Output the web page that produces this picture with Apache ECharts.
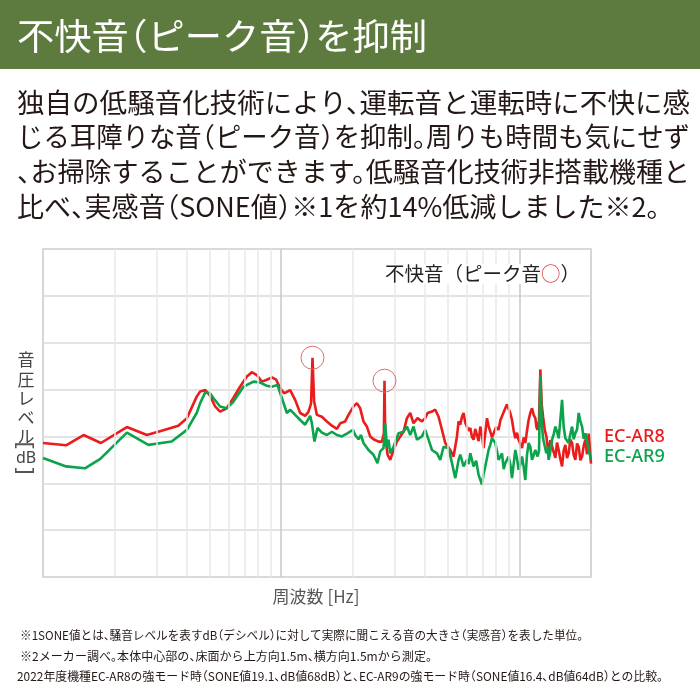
<!DOCTYPE html>
<html lang="ja">
<head>
<meta charset="utf-8">
<title>不快音（ピーク音）を抑制</title>
<script src="https://cdn.jsdelivr.net/npm/echarts@6/dist/echarts.min.js"></script>
<style>
  body { margin: 0; background: #fff; }
  #wrap { position: relative; width: 700px; height: 700px; overflow: hidden; background: #fff; font-family: "Noto Sans CJK JP", "Noto Sans", sans-serif; }
  #band { position: absolute; left: 0; top: 0; width: 700px; height: 69px; background: #5e7b3f; }
  #chart { position: absolute; left: 0; top: 0; width: 700px; height: 700px; }
  .fit { position: absolute; white-space: nowrap; display: inline-block; transform-origin: 0 0; font-feature-settings: "halt"; }
  .title { left: 17px; top: 16px; font-size: 36px; line-height: 36px; color: #fff; }
  .para { left: 17px; font-size: 27px; line-height: 27px; color: #231815; }
  .note { font-size: 12px; line-height: 12px; color: #231815; }
  .br { position: absolute; width: 20px; height: 30px; line-height: 30px; text-align: center; font-family: "Noto Sans", sans-serif; font-size: 22px; color: #555; transform: rotate(90deg); }
</style>
</head>
<body>
<div id="wrap">
  <div id="band"></div>
  <div id="chart"></div>
  <span class="fit title" data-w="410">不快音（ピーク音）を抑制</span>
  <span class="fit para" style="top:88px" data-w="673">独自の低騒音化技術により、運転音と運転時に不快に感</span>
  <span class="fit para" style="top:122px" data-w="673">じる耳障りな音（ピーク音）を抑制。周りも時間も気にせず</span>
  <span class="fit para" style="top:157px" data-w="673">、お掃除することができます。低騒音化技術非搭載機種と</span>
  <span class="fit para" style="top:192px" data-w="643">比べ、実感音（SONE値）※1を約14%低減しました※2。</span>
  <span class="br" style="left:17px;top:430px">[</span>
  <span class="br" style="left:17px;top:456px">]</span>
  <span class="fit note" style="left:20px;top:629px" data-w="563">※1SONE値とは、騒音レベルを表すdB（デシベル）に対して実際に聞こえる音の大きさ（実感音）を表した単位。</span>
  <span class="fit note" style="left:20px;top:650px" data-w="412">※2メーカー調べ。本体中心部の、床面から上方向1.5m、横方向1.5mから測定。</span>
  <span class="fit note" style="left:17px;top:670px" data-w="646">2022年度機種EC-AR8の強モード時（SONE値19.1、dB値68dB）と、EC-AR9の強モード時（SONE値16.4、dB値64dB）との比較。</span>
</div>
<script>
// 周波数 [Hz] と音圧レベル [dB]（目盛なしの相対値）
const seriesNames = ['EC-AR8', 'EC-AR9'];

const ar8Freq = [100, 125, 148, 175, 225, 273, 320, 370, 402, 442, 457, 480, 503, 528, 554, 591, 630, 672, 718, 753,
  790, 830, 871, 914, 953, 990, 1029, 1091, 1145, 1202, 1261, 1300, 1335, 1354, 1375, 1413, 1483, 1556, 1633, 1714,
  1770, 1857, 1918, 2013, 2080, 2147, 2217, 2291, 2365, 2442, 2563, 2649, 2700, 2716, 2735, 2796, 2871, 2964, 3063, 3162,
  3265, 3375, 3483, 3596, 3738, 3901, 4027, 4118, 4298, 4438, 4582, 4735, 4888, 5130, 5296, 5473, 5559, 5651, 5744, 5834,
  5931, 6029, 6124, 6225, 6330, 6427, 6530, 6643, 6750, 6857, 6970, 7079, 7200, 7316, 7430, 7554, 7680, 7798, 7990, 8185,
  8320, 8459, 8600, 8734, 8870, 9016, 9160, 9318, 9470, 9621, 9780, 9933, 10100, 10264, 10430, 10597, 10770, 10942, 11120, 11308,
  11490, 11676, 11800, 11940, 12100, 12256, 12420, 12581, 12780, 12989, 13130, 13282, 13500, 13726, 13950, 14171, 14400, 14630, 14870, 15120,
  15360, 15612, 15860, 16117, 16380, 16657, 16920, 17199, 17480, 17757, 18050, 18349, 18640, 18943, 19250, 19559, 19800, 20000];
const ar8Level = [28.6, 28.1, 30.3, 28.6, 32.0, 30.3, 31.3, 32.3, 33.9, 38.5, 39.6, 39.9, 38.7, 36.4, 35.3, 36.0, 38.2, 40.6, 42.8, 43.7,
  43.1, 41.7, 42.1, 42.6, 42.1, 40.3, 39.2, 39.9, 37.8, 35.0, 34.4, 35.2, 37.0, 46.8, 37.5, 34.6, 34.2, 33.2, 32.3, 31.6,
  32.8, 33.2, 34.6, 36.4, 37.1, 36.0, 33.2, 32.1, 30.0, 29.4, 28.9, 28.9, 30.6, 41.9, 30.2, 26.1, 25.0, 27.1, 28.9, 30.0,
  31.0, 33.9, 35.0, 32.8, 33.9, 33.2, 33.9, 35.0, 35.3, 35.7, 34.2, 31.4, 28.6, 27.1, 25.7, 30.0, 33.2, 32.5, 34.2, 35.0,
  32.9, 33.2, 31.2, 31.8, 29.9, 29.3, 31.6, 31.4, 29.0, 32.1, 30.4, 27.5, 30.8, 33.9, 32.2, 31.0, 29.8, 30.0, 32.0, 31.4,
  33.4, 33.2, 35.2, 35.0, 36.8, 36.4, 35.0, 33.5, 31.2, 29.6, 30.8, 29.3, 28.4, 27.5, 29.8, 28.6, 31.2, 33.5, 35.0, 36.0,
  34.6, 33.9, 32.0, 31.4, 33.5, 44.3, 36.8, 34.2, 31.5, 30.0, 28.1, 26.8, 29.2, 28.9, 26.6, 25.4, 28.7, 27.1, 25.2, 23.6,
  27.0, 28.2, 25.4, 26.4, 29.3, 28.6, 26.0, 25.0, 28.5, 27.8, 24.9, 25.7, 28.0, 29.3, 26.2, 30.6, 27.0, 24.2];

const ar9Freq = [100, 125, 150, 174, 225, 277, 347, 402, 442, 457, 480, 487, 503, 519, 554, 591, 630, 694, 765, 816,
  871, 914, 965, 1007, 1057, 1091, 1145, 1202, 1261, 1324, 1346, 1380, 1421, 1483, 1556, 1633, 1714, 1799, 1888, 1918,
  2002, 2046, 2112, 2162, 2217, 2327, 2442, 2538, 2606, 2690, 2735, 2780, 2823, 2871, 2964, 3111, 3265, 3375, 3483, 3596,
  3717, 3901, 4027, 4158, 4298, 4511, 4658, 4808, 5046, 5215, 5384, 5470, 5559, 5651, 5834, 6029, 6130, 6225, 6427, 6590,
  6745, 6971, 7080, 7196, 7430, 7550, 7679, 7928, 8050, 8185, 8459, 8600, 8734, 9016, 9170, 9318, 9621, 9780, 9933, 10100,
  10264, 10430, 10597, 10770, 10942, 11120, 11308, 11490, 11676, 11940, 12100, 12256, 12420, 12581, 12780, 12989, 13130, 13282, 13500, 13726,
  13950, 14171, 14400, 14630, 14870, 15120, 15360, 15612, 15860, 16117, 16380, 16657, 16920, 17199, 17480, 17757, 18050, 18349, 18640, 18943,
  19250, 19559, 19800, 20000];
const ar9Level = [25.4, 23.6, 23.2, 25.2, 30.8, 28.2, 28.9, 31.4, 35.0, 37.1, 39.4, 39.6, 39.2, 38.2, 36.4, 36.0, 37.4, 40.6, 41.7, 41.5,
  40.8, 40.6, 41.0, 38.2, 35.0, 35.7, 34.6, 33.5, 32.5, 34.4, 32.8, 28.9, 31.8, 30.8, 30.3, 31.0, 30.3, 30.0, 30.6, 30.7,
  31.4, 30.3, 29.4, 30.3, 28.6, 27.1, 26.1, 24.3, 26.8, 27.5, 32.8, 27.8, 29.3, 26.4, 27.8, 30.7, 31.0, 32.1, 30.3, 32.1,
  29.3, 30.0, 31.4, 29.3, 27.1, 26.4, 25.0, 27.8, 27.5, 24.3, 21.1, 23.0, 25.0, 26.1, 23.6, 25.0, 24.1, 26.4, 23.6, 24.8,
  21.8, 19.7, 22.0, 23.6, 27.1, 28.2, 29.6, 28.6, 27.0, 25.0, 26.4, 23.0, 24.3, 25.7, 24.0, 21.1, 27.1, 25.3, 22.9, 24.0,
  25.7, 23.5, 20.7, 26.0, 28.6, 27.8, 25.0, 26.0, 27.1, 25.7, 27.0, 43.1, 33.0, 29.6, 28.0, 26.4, 27.8, 25.0, 26.8, 29.3,
  30.5, 32.1, 31.0, 29.6, 33.5, 37.8, 32.0, 29.6, 30.0, 28.6, 30.5, 32.1, 29.4, 30.7, 31.5, 35.0, 33.2, 32.1, 29.5, 30.7,
  29.0, 27.1, 26.0, 25.0];

// ピーク音（○印）
const peakFreq = [1354, 2716];
const peakLevel = [46.8, 41.9];

// 対数目盛の縦線
const minorFreq = [200, 300, 400, 500, 600, 700, 800, 900, 2000, 3000, 4000, 5000, 6000, 7000, 8000, 9000];
const decadeFreq = [1000, 10000];

const RED = '#ea1c1c';
const GREEN = '#0ba34b';
const JP = '"Noto Sans CJK JP", sans-serif';

function pairs(xs, ys) {
  return xs.map((x, i) => [x, ys[i]]);
}

function fitLines() {
  document.querySelectorAll('.fit').forEach(el => {
    const w = Number(el.dataset.w);
    const nat = el.getBoundingClientRect().width;
    if (w && nat) el.style.transform = `scaleX(${w / nat})`;
  });
}

function label(text, x, y, size, font, fill) {
  return {
    type: 'text', x, y, z: 100,
    style: { text, fontSize: size, fontFamily: font, fill, align: 'center', verticalAlign: 'middle' }
  };
}

function yLabel() {
  const chars = ['音', '圧', 'レ', 'ベ', 'ル'];
  const ys = [360, 380, 399, 418, 437];
  const items = chars.map((c, i) => label(c, 26, ys[i], 17, JP, '#444'));
  items.push(label('dB', 26, 458, 16, '"Noto Sans", sans-serif', '#444'));
  return items;
}

const chart = echarts.init(document.getElementById('chart'));

chart.setOption({
  animation: false,
  grid: { left: 43, top: 249, width: 548, height: 328, show: true, borderColor: '#c9c9c9', borderWidth: 1.5 },
  xAxis: {
    type: 'log', logBase: 10, min: 100, max: 20000,
    axisLine: { show: false }, axisTick: { show: false }, axisLabel: { show: false }, splitLine: { show: false }
  },
  yAxis: {
    type: 'value', min: 0, max: 70, interval: 10,
    axisLine: { show: false }, axisTick: { show: false }, axisLabel: { show: false },
    splitLine: { lineStyle: { color: '#dadada', width: 1.5 } }
  },
  legend: {
    data: [
      { name: seriesNames[0], textStyle: { color: RED } },
      { name: seriesNames[1], textStyle: { color: GREEN } }
    ],
    orient: 'vertical', left: 599, top: 428, icon: 'none', itemWidth: 0, itemHeight: 14, itemGap: 2, padding: 0,
    selectedMode: false,
    textStyle: { fontSize: 18, fontFamily: '"Noto Sans", sans-serif', fontWeight: 500 }
  },
  graphic: [
    {
      type: 'text', x: 385, y: 274, z: 100,
      style: {
        text: '{a|不快音（ピーク音}{b|○}{a|）}',
        verticalAlign: 'middle',
        backgroundColor: '#fff',
        rich: {
          a: { fontSize: 19.5, fontFamily: JP, fill: '#222' },
          b: { fontSize: 19.5, fontFamily: JP, fill: '#e0474c' }
        }
      }
    },
    label('周波数 [Hz]', 316, 597, 17, JP, '#555')
  ].concat(yLabel()),
  series: [
    {
      type: 'line', name: 'grid', data: [], z: 1, silent: true,
      markLine: {
        silent: true, symbol: ['none', 'none'], label: { show: false },
        lineStyle: { type: 'solid', color: '#e8e8e8', width: 1.5 },
        data: minorFreq.map(f => ({ xAxis: f }))
          .concat(decadeFreq.map(f => ({ xAxis: f, lineStyle: { type: 'solid', color: '#c9c9c9', width: 1.5 } })))
      }
    },
    {
      type: 'line', name: seriesNames[0], data: pairs(ar8Freq, ar8Level), z: 2,
      symbol: 'none', showSymbol: false,
      lineStyle: { color: RED, width: 2.6 }, itemStyle: { color: RED },
      markPoint: {
        silent: true, symbol: 'circle', symbolSize: 23,
        itemStyle: { color: 'rgba(0,0,0,0)', borderColor: '#e06a6a', borderWidth: 1 },
        label: { show: false },
        data: pairs(peakFreq, peakLevel).map(c => ({ coord: c }))
      }
    },
    {
      type: 'line', name: seriesNames[1], data: pairs(ar9Freq, ar9Level), z: 3,
      symbol: 'none', showSymbol: false,
      lineStyle: { color: GREEN, width: 2.6 }, itemStyle: { color: GREEN }
    }
  ]
});

fitLines();
</script>
</body>
</html>
